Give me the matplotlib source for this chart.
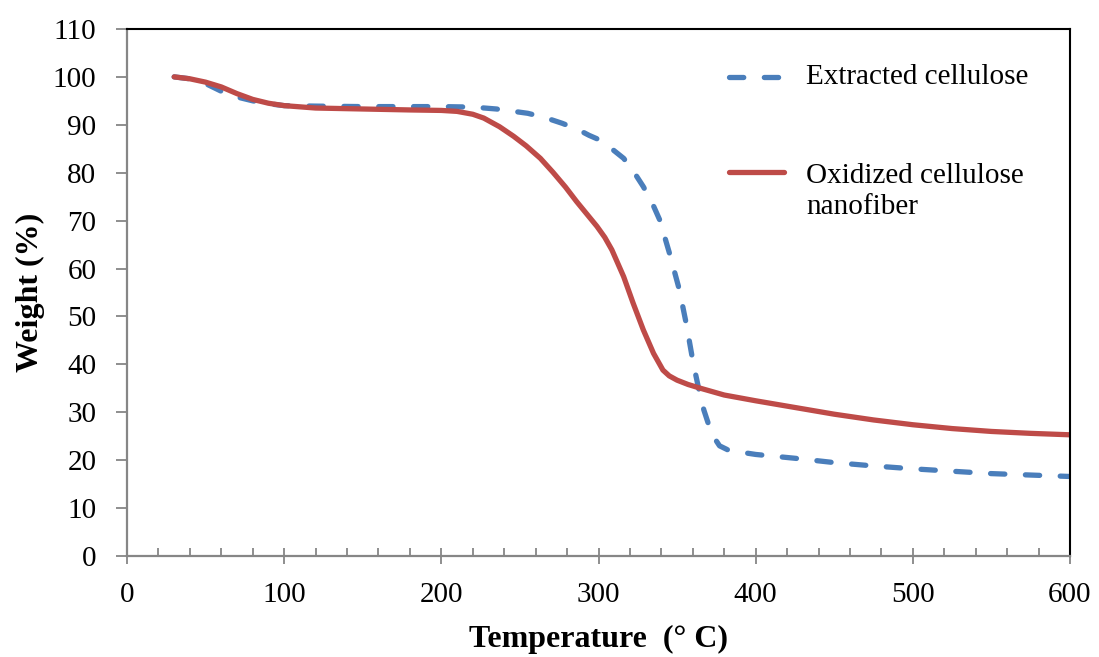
import numpy as np
import matplotlib.pyplot as plt

# Data
temp_ext = [30, 40, 50, 60, 70, 80, 90, 100, 120, 150, 200, 220, 235, 255, 266, 277,
            287, 294, 301, 308, 316, 322, 328.5, 334, 339, 345.5, 351.5, 356, 360.3,
            363.5, 367, 370, 373, 377, 382, 390, 400, 425, 450, 475, 500, 525, 550, 575, 600]
w_ext = [100, 99.6, 98.6, 97, 95.8, 95, 94.4, 94, 93.9, 93.8, 93.8, 93.7, 93.3, 92.4, 91.5, 90.3,
         89, 87.8, 86.8, 85.1, 83, 80.4, 77.1, 73.8, 70.1, 62.8, 55.5, 48.2, 40.2,
         35.3, 30.5, 27.5, 25, 23, 22.2, 21.7, 21.2, 20.4, 19.5, 18.8, 18.2, 17.7, 17.2, 16.9, 16.6]

temp_ox = [30, 40, 50, 60, 70, 80, 90, 100, 120, 150, 180, 200, 210, 220, 227, 237, 246,
           254, 263, 271, 279, 286, 293, 299, 304, 308.5, 316, 322, 328.5, 335, 341, 345,
           350, 357, 365, 380, 400, 425, 450, 475, 500, 525, 550, 575, 600]
w_ox = [100, 99.6, 98.9, 97.9, 96.5, 95.3, 94.5, 94, 93.5, 93.3, 93.1, 93.0, 92.8, 92.2, 91.4,
        89.6, 87.6, 85.6, 83.0, 80.1, 77.0, 74.0, 71.2, 68.8, 66.5, 63.9, 58.3, 52.8, 47.2,
        42.3, 38.8, 37.6, 36.7, 35.8, 35.0, 33.6, 32.4, 31, 29.6, 28.4, 27.4, 26.6, 26, 25.6, 25.3]

labels = ["Extracted cellulose", "Oxidized cellulose\nnanofiber"]

blue = "#4A7EBB"
red = "#BE4B48"
gray = "#868686"

plt.rcParams['font.family'] = ['Liberation Serif', 'DejaVu Serif']
fs = 21

fig = plt.figure(figsize=(10.99, 6.57), dpi=100)
ax = fig.add_axes([0.1156, 0.1537, 0.858, 0.8022])

lw = 3.8
dash = (2.7, 3.9)
ax.plot(temp_ext, w_ext, color=blue, lw=lw, dashes=dash, dash_capstyle='round')
ax.plot(temp_ox, w_ox, color=red, lw=lw, solid_capstyle='round', solid_joinstyle='round')

ax.set_xlim(0, 600)
ax.set_ylim(0, 110)
ax.set_xticks(np.arange(0, 601, 100))
ax.set_xticks(np.arange(0, 601, 20), minor=True)
ax.set_yticks(np.arange(0, 111, 10))

ax.tick_params(axis='x', which='major', direction='inout', length=12, width=1.3,
               color=gray, labelsize=fs, pad=13)
ax.tick_params(axis='x', which='minor', direction='in', length=6, width=1.3, color=gray)
ax.tick_params(axis='y', which='major', direction='out', length=8, width=1.3,
               color=gray, labelsize=fs, pad=14)

for s in ['left', 'bottom']:
    ax.spines[s].set_color(gray)
    ax.spines[s].set_linewidth(1.6)
for s in ['top', 'right']:
    ax.spines[s].set_color('black')
    ax.spines[s].set_linewidth(1.5)

ax.set_xlabel("Temperature  (° C)", fontsize=23, fontweight='bold', labelpad=12)
ax.set_ylabel("Weight (%)", fontsize=23, fontweight='bold', labelpad=6)

# legend drawn by hand so the handle sits on the first text line
ax.plot([0.638, 0.697], [0.909, 0.909], transform=ax.transAxes, color=blue, lw=lw,
        dashes=dash, dash_capstyle='round')
ax.text(0.72, 0.909, labels[0], transform=ax.transAxes, fontsize=fs, va='center')
ax.plot([0.638, 0.697], [0.729, 0.729], transform=ax.transAxes, color=red, lw=lw,
        solid_capstyle='round')
ax.text(0.72, 0.692, labels[1], transform=ax.transAxes, fontsize=fs, va='center',
        linespacing=1.25)

fig.savefig("out.png", dpi=100)
